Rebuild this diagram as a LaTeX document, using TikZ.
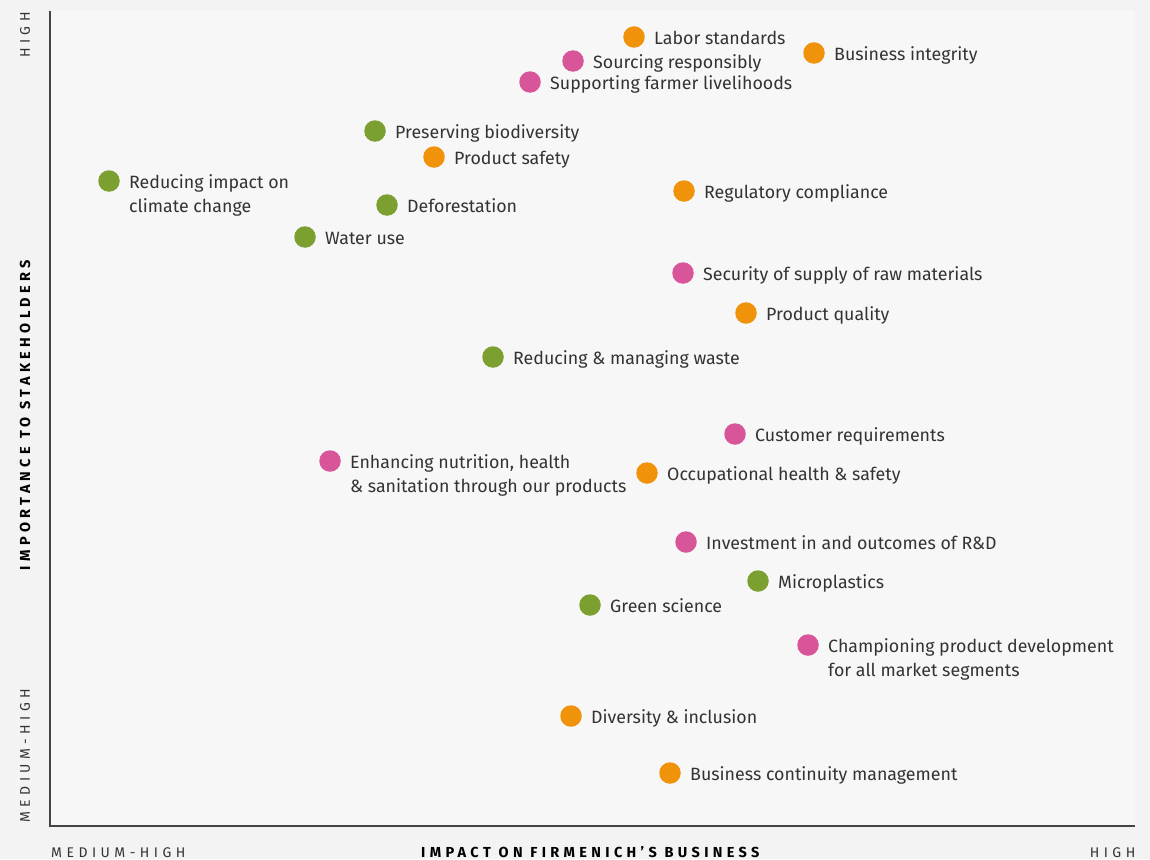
\documentclass[tikz,border=0pt]{standalone}
\usepackage{fontspec}
\setmainfont{Fira Sans}
\definecolor{pagebg}{HTML}{F3F3F3}
\definecolor{plotbg}{HTML}{F7F7F7}
\definecolor{axisc}{HTML}{444444}
\definecolor{txt}{HTML}{333333}
\definecolor{cor}{HTML}{F0920A}
\definecolor{cpk}{HTML}{D9559A}
\definecolor{cgr}{HTML}{7BA030}
\tikzset{
  dot/.style={circle,inner sep=0pt,minimum size=21.5pt,draw=none},
  lab/.style={anchor=north west,inner sep=0pt,text=txt,align=left,
    font=\fontsize{17.8}{24.5}\selectfont},
  axislbl/.style={text=txt,inner sep=0pt,font=\fontsize{14}{16}\selectfont\addfontfeature{LetterSpace=32}},
  axistitle/.style={text=black,inner sep=0pt,font=\fontsize{14.5}{16}\selectfont\bfseries\addfontfeature{LetterSpace=30}},
  axisline/.style={draw=axisc,line width=1.4pt}
}
\newcommand\issue[5]{%
  \node[dot,fill=#2] (d#1) at (#3,#4) {};
  \node[lab] (l#1) at ([xshift=20pt,yshift=10pt]d#1.center) {\strut#5};}
\begin{document}
\begin{tikzpicture}[x=1pt,y=-1pt]
\fill[pagebg] (0,0) rectangle (1150,859);
\useasboundingbox (0,0) rectangle (1150,859);
\fill[plotbg] (50,11) rectangle (1135,826);
% axes
\coordinate (origin) at (50,826);
\coordinate (ytop) at (50,11);
\coordinate (xend) at (1135,826);
\draw[axisline] (ytop) -- (origin) -- (xend);
% axis labels
\node[axislbl,rotate=90,anchor=east] (yhigh) at (25,12) {HIGH};
\node[axislbl,rotate=90,anchor=west] (ymed) at (25,823) {MEDIUM-HIGH};
\node[axistitle,rotate=90] (ytitle) at (25,415) {IMPORTANCE TO STAKEHOLDERS};
\node[axislbl,anchor=base west] (xmed) at (51,857) {MEDIUM-HIGH};
\node[axistitle,anchor=base west] (xtitle) at (421,857) {IMPACT ON FIRMENICH’S BUSINESS};
\node[axislbl,anchor=base east] (xhigh) at (1135.5,857) {HIGH};
% issues
\issue{labor}{cor}{634}{37}{Labor standards}
\issue{integrity}{cor}{814}{53}{Business integrity}
\issue{sourcing}{cpk}{573}{61}{Sourcing responsibly}
\issue{farmer}{cpk}{530}{82}{Supporting farmer livelihoods}
\issue{biodiv}{cgr}{375}{131}{Preserving biodiversity}
\issue{safety}{cor}{434}{157}{Product safety}
\issue{climate}{cgr}{109}{181}{Reducing impact on\\climate change}
\issue{defor}{cgr}{387}{205}{Deforestation}
\issue{regul}{cor}{684}{191}{Regulatory compliance}
\issue{water}{cgr}{305}{237}{Water use}
\issue{supply}{cpk}{683}{273}{Security of supply of raw materials}
\issue{quality}{cor}{746}{313}{Product quality}
\issue{waste}{cgr}{493}{357}{Reducing \& managing waste}
\issue{customer}{cpk}{735}{434}{Customer requirements}
\issue{nutrition}{cpk}{330}{461}{Enhancing nutrition, health\\\& sanitation through our products}
\issue{occup}{cor}{647}{473}{Occupational health \& safety}
\issue{rnd}{cpk}{686}{542}{Investment in and outcomes of R\&D}
\issue{micro}{cgr}{758}{581}{Microplastics}
\issue{green}{cgr}{590}{605}{Green science}
\issue{champ}{cpk}{808}{645}{Championing product development\\for all market segments}
\issue{divers}{cor}{571}{716}{Diversity \& inclusion}
\issue{contin}{cor}{670}{773}{Business continuity management}
\end{tikzpicture}
\end{document}
